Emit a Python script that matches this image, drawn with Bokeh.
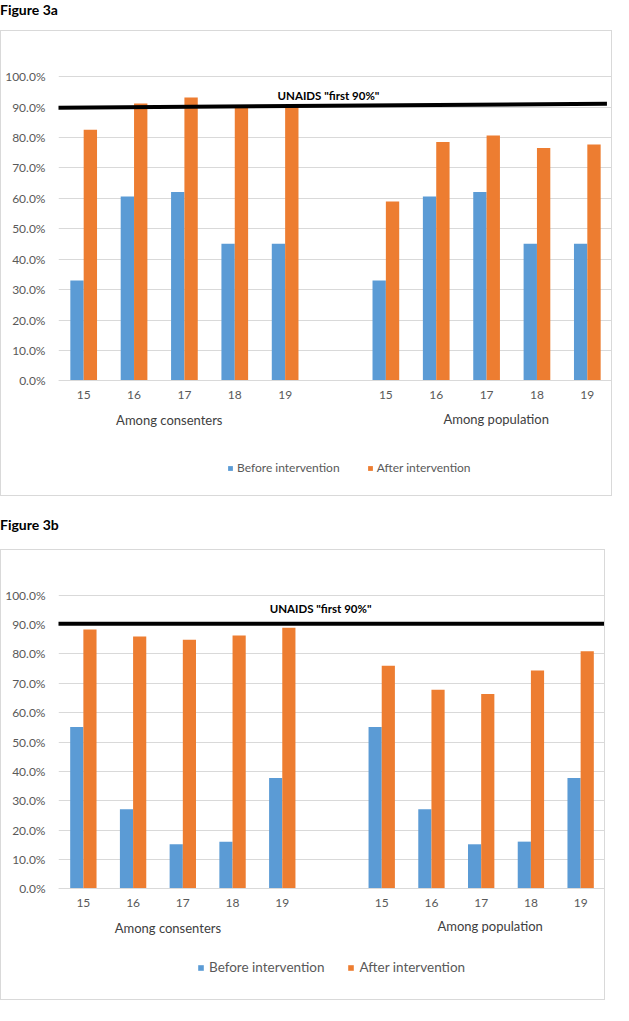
from bokeh.plotting import figure
from bokeh.models import (FactorRange, ColumnDataSource, FixedTicker, PrintfTickFormatter,
                          Label, Legend, LegendItem, Div, Range1d)
from bokeh.transform import dodge
from bokeh.layouts import column
from bokeh.embed import file_html
from bokeh.resources import INLINE

# ---------------- data ----------------
ages = ["15", "16", "17", "18", "19"]
group_labels = ["Among consenters", "Among population"]
series_names = ["Before intervention", "After intervention"]
y_ticks = [0, 10, 20, 30, 40, 50, 60, 70, 80, 90, 100]
target_label = 'UNAIDS "first 90%"'
titles = ["Figure 3a", "Figure 3b"]

a_before_consenters = [33.0, 60.6, 62.1, 45.1, 45.1]
a_after_consenters = [82.6, 91.2, 93.2, 90.1, 90.4]
a_before_population = [33.0, 60.6, 62.1, 45.1, 45.1]
a_after_population = [59.0, 78.5, 80.7, 76.6, 77.7]
a_target_x = [-0.06, 10.89]
a_target_y = [89.8, 91.1]

b_before_consenters = [55.1, 27.1, 15.2, 16.1, 37.8]
b_after_consenters = [88.3, 85.9, 84.8, 86.3, 88.9]
b_before_population = [55.1, 27.1, 15.2, 16.1, 37.8]
b_after_population = [76.0, 67.8, 66.4, 74.4, 80.9]
b_target_x = [-0.17, 11.0]
b_target_y = [90.3, 90.3]

FONT = "Lato"
BLUE = "#5B9BD5"
ORANGE = "#ED7D31"
GRID = "#D9D9D9"
TICK_COLOR = "#595959"


def make_chart(before_c, after_c, before_p, after_p, tx, ty, W, H, y_start,
               legend_font, legend_loc, legend_spacing, legend_standoff, glyph,
               target_pos, group_pos):
    factors = [(g, a) for g in group_labels for a in ages]
    src = ColumnDataSource(dict(x=factors, before=before_c + before_p,
                                after=after_c + after_p))

    p = figure(width=W, height=H,
               x_range=FactorRange(*factors, factor_padding=0, group_padding=1.0,
                                   range_padding=0),
               y_range=Range1d(y_start, 105),
               output_backend="svg", toolbar_location=None,
               min_border_left=57, min_border_right=1,
               min_border_top=30, min_border_bottom=2,
               outline_line_color=None,
               styles={"border": "1px solid #D9D9D9"})

    r1 = p.vbar(x=dodge("x", -0.1325, range=p.x_range), top="before", width=0.265,
                source=src, fill_color=BLUE, line_color=None)
    r2 = p.vbar(x=dodge("x", 0.1325, range=p.x_range), top="after", width=0.265,
                source=src, fill_color=ORANGE, line_color=None)

    p.line(x=tx, y=ty, line_color="black", line_width=4)

    p.add_layout(Label(x=target_pos[0], y=target_pos[1], text=target_label,
                       text_font=FONT, text_font_size="11.5px", text_font_style="bold",
                       text_color="black", text_align="center", text_baseline="middle"))

    for (gx, gy), gl in zip(group_pos, group_labels):
        p.add_layout(Label(x=gx, y=gy, text=gl, text_font=FONT, text_font_size="13px",
                           text_color="#404040", text_align="center",
                           text_baseline="middle"))

    # y axis
    p.yaxis.ticker = FixedTicker(ticks=y_ticks)
    p.yaxis.formatter = PrintfTickFormatter(format="%.1f%%")
    p.yaxis.axis_line_color = None
    p.yaxis.major_tick_line_color = None
    p.yaxis.minor_tick_line_color = None
    p.yaxis.major_tick_out = 0
    p.yaxis.major_label_standoff = 13
    p.yaxis.major_label_text_font = FONT
    p.yaxis.major_label_text_font_size = "12px"
    p.yaxis.major_label_text_color = TICK_COLOR

    # x axis (ages), pinned at 0 %
    xa = p.xaxis[0]
    xa.fixed_location = 0
    xa.axis_line_color = GRID
    xa.major_tick_line_color = None
    xa.major_tick_out = 0
    xa.major_label_standoff = 10
    xa.major_label_text_font = FONT
    xa.major_label_text_font_size = "12px"
    xa.major_label_text_color = TICK_COLOR
    xa.group_text_font_size = "0px"
    xa.group_text_color = None
    xa.separator_line_color = None

    p.xgrid.visible = False
    p.ygrid.grid_line_color = GRID

    legend = Legend(items=[LegendItem(label=series_names[0], renderers=[r1]),
                           LegendItem(label=series_names[1], renderers=[r2])],
                    location=legend_loc, orientation="horizontal",
                    label_text_font=FONT, label_text_font_size=legend_font,
                    label_text_color=TICK_COLOR,
                    glyph_width=glyph, glyph_height=glyph, label_height=12,
                    label_standoff=legend_standoff, spacing=legend_spacing,
                    padding=0, margin=0, border_line_color=None,
                    background_fill_alpha=0)
    p.add_layout(legend)
    return p


p1 = make_chart(a_before_consenters, a_after_consenters, a_before_population, a_after_population,
                a_target_x, a_target_y, W=612, H=466, y_start=-37.67,
                legend_font="12px", legend_loc=(169, 20), legend_spacing=27,
                legend_standoff=4, glyph=6,
                target_pos=(5.36, 93.9), group_pos=[(2.2, -12.9), (8.69, -12.5)])

p2 = make_chart(b_before_consenters, b_after_consenters, b_before_population, b_after_population,
                b_target_x, b_target_y, W=605, H=451, y_start=-37.64,
                legend_font="13.5px", legend_loc=(139, 24), legend_spacing=23,
                legend_standoff=5, glyph=7,
                target_pos=(5.27, 95.3), group_pos=[(2.2, -13.4), (8.68, -12.5)])

title_style = {"font-family": FONT, "font-weight": "bold", "font-size": "14px", "color": "black"}
d1 = Div(text=titles[0], width=200, height=30, margin=0, styles=title_style)
d2 = Div(text=f'<div style="padding-top:19px">{titles[1]}</div>', width=200, height=53,
         margin=0, styles=title_style)

layout = column(d1, p1, d2, p2, spacing=0)

open("out.html", "w").write(file_html(layout, INLINE))
